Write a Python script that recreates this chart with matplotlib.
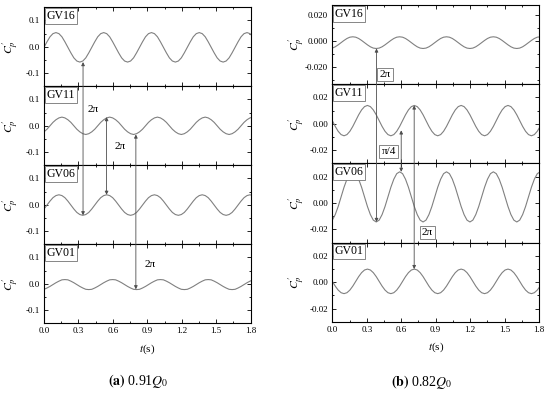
import numpy as np
import matplotlib
matplotlib.use('Agg')
import matplotlib.pyplot as plt
from matplotlib.patches import ConnectionPatch
from matplotlib.ticker import MultipleLocator, FormatStrFormatter

plt.rcParams['font.family'] = ['Liberation Serif', 'DejaVu Serif']
plt.rcParams['mathtext.fontset'] = 'stix'
plt.rcParams['axes.unicode_minus'] = False

# guide vane names, top panel first
names = ['GV16', 'GV11', 'GV06', 'GV01']

# sample interval of the records (s)
dt_a = 0.026
dt_b = 0.0255

# (a) 0.91Q0, pressure coefficient
gv16_a = [-0.002, 0.019, 0.038, 0.050, 0.054, 0.050, 0.038, 0.019, -0.002, -0.023, -0.042, -0.054, -0.058, -0.054, -0.042, -0.023,
          -0.002, 0.019, 0.038, 0.050, 0.054, 0.050, 0.038, 0.019, -0.002, -0.023, -0.042, -0.054, -0.058, -0.054, -0.042, -0.023,
          -0.002, 0.019, 0.038, 0.050, 0.054, 0.050, 0.038, 0.019, -0.002, -0.023, -0.042, -0.054, -0.058, -0.054, -0.042, -0.023,
          -0.002, 0.019, 0.038, 0.050, 0.054, 0.050, 0.038, 0.019, -0.002, -0.023, -0.042, -0.054, -0.058, -0.054, -0.042, -0.023,
          -0.002, 0.019, 0.038, 0.050, 0.054, 0.050, 0.038, 0.019]
gv11_a = [-0.023, -0.013, 0.000, 0.013, 0.023, 0.030, 0.033, 0.030, 0.023, 0.013, 0.000, -0.013, -0.023, -0.030, -0.033, -0.030,
          -0.023, -0.013, 0.000, 0.013, 0.023, 0.030, 0.033, 0.030, 0.023, 0.013, 0.000, -0.013, -0.023, -0.030, -0.033, -0.030,
          -0.023, -0.013, 0.000, 0.013, 0.023, 0.030, 0.033, 0.030, 0.023, 0.013, 0.000, -0.013, -0.023, -0.030, -0.033, -0.030,
          -0.023, -0.013, 0.000, 0.013, 0.023, 0.030, 0.033, 0.030, 0.023, 0.013, 0.000, -0.013, -0.023, -0.030, -0.033, -0.030,
          -0.023, -0.013, 0.000, 0.013, 0.023, 0.030, 0.033, 0.030]
gv06_a = [-0.016, -0.001, 0.014, 0.027, 0.035, 0.038, 0.035, 0.027, 0.014, -0.001, -0.016, -0.029, -0.037, -0.040, -0.037, -0.029,
          -0.016, -0.001, 0.014, 0.027, 0.035, 0.038, 0.035, 0.027, 0.014, -0.001, -0.016, -0.029, -0.037, -0.040, -0.037, -0.029,
          -0.016, -0.001, 0.014, 0.027, 0.035, 0.038, 0.035, 0.027, 0.014, -0.001, -0.016, -0.029, -0.037, -0.040, -0.037, -0.029,
          -0.016, -0.001, 0.014, 0.027, 0.035, 0.038, 0.035, 0.027, 0.014, -0.001, -0.016, -0.029, -0.037, -0.040, -0.037, -0.029,
          -0.016, -0.001, 0.014, 0.027, 0.035, 0.038, 0.035, 0.027]
gv01_a = [-0.021, -0.016, -0.010, -0.003, 0.004, 0.010, 0.015, 0.016, 0.015, 0.010, 0.004, -0.003, -0.010, -0.016, -0.021, -0.022,
          -0.021, -0.016, -0.010, -0.003, 0.004, 0.010, 0.015, 0.016, 0.015, 0.010, 0.004, -0.003, -0.010, -0.016, -0.021, -0.022,
          -0.021, -0.016, -0.010, -0.003, 0.004, 0.010, 0.015, 0.016, 0.015, 0.010, 0.004, -0.003, -0.010, -0.016, -0.021, -0.022,
          -0.021, -0.016, -0.010, -0.003, 0.004, 0.010, 0.015, 0.016, 0.015, 0.010, 0.004, -0.003, -0.010, -0.016, -0.021, -0.022,
          -0.021, -0.016, -0.010, -0.003, 0.004, 0.010, 0.015, 0.016]

# (b) 0.82Q0
gv16_b = [-0.0052, -0.0042, -0.0027, -0.0010, 0.0007, 0.0022, 0.0032, 0.0035, 0.0032, 0.0022, 0.0007, -0.0010, -0.0027, -0.0042, -0.0052, -0.0055,
          -0.0052, -0.0042, -0.0027, -0.0010, 0.0007, 0.0022, 0.0032, 0.0035, 0.0032, 0.0022, 0.0007, -0.0010, -0.0027, -0.0042, -0.0052, -0.0055,
          -0.0052, -0.0042, -0.0027, -0.0010, 0.0007, 0.0022, 0.0032, 0.0035, 0.0032, 0.0022, 0.0007, -0.0010, -0.0027, -0.0042, -0.0052, -0.0055,
          -0.0052, -0.0042, -0.0027, -0.0010, 0.0007, 0.0022, 0.0032, 0.0035, 0.0032, 0.0022, 0.0007, -0.0010, -0.0027, -0.0042, -0.0052, -0.0055,
          -0.0052, -0.0042, -0.0027, -0.0010, 0.0007, 0.0022, 0.0032, 0.0035]
gv11_b = [0.0024, -0.0020, -0.0057, -0.0082, -0.0091, -0.0082, -0.0057, -0.0020, 0.0024, 0.0068, 0.0105, 0.0130, 0.0139, 0.0130, 0.0105, 0.0068,
          0.0024, -0.0020, -0.0057, -0.0082, -0.0091, -0.0082, -0.0057, -0.0020, 0.0024, 0.0068, 0.0105, 0.0130, 0.0139, 0.0130, 0.0105, 0.0068,
          0.0024, -0.0020, -0.0057, -0.0082, -0.0091, -0.0082, -0.0057, -0.0020, 0.0024, 0.0068, 0.0105, 0.0130, 0.0139, 0.0130, 0.0105, 0.0068,
          0.0024, -0.0020, -0.0057, -0.0082, -0.0091, -0.0082, -0.0057, -0.0020, 0.0024, 0.0068, 0.0105, 0.0130, 0.0139, 0.0130, 0.0105, 0.0068,
          0.0024, -0.0020, -0.0057, -0.0082, -0.0091, -0.0082, -0.0057, -0.0020]
gv06_b = [-0.0130, -0.0088, -0.0027, 0.0046, 0.0119, 0.0180, 0.0222, 0.0236, 0.0222, 0.0180, 0.0119, 0.0046, -0.0027, -0.0088, -0.0130, -0.0144,
          -0.0130, -0.0088, -0.0027, 0.0046, 0.0119, 0.0180, 0.0222, 0.0236, 0.0222, 0.0180, 0.0119, 0.0046, -0.0027, -0.0088, -0.0130, -0.0144,
          -0.0130, -0.0088, -0.0027, 0.0046, 0.0119, 0.0180, 0.0222, 0.0236, 0.0222, 0.0180, 0.0119, 0.0046, -0.0027, -0.0088, -0.0130, -0.0144,
          -0.0130, -0.0088, -0.0027, 0.0046, 0.0119, 0.0180, 0.0222, 0.0236, 0.0222, 0.0180, 0.0119, 0.0046, -0.0027, -0.0088, -0.0130, -0.0144,
          -0.0130, -0.0088, -0.0027, 0.0046, 0.0119, 0.0180, 0.0222, 0.0236]
gv01_b = [0.0006, -0.0030, -0.0060, -0.0080, -0.0087, -0.0080, -0.0060, -0.0030, 0.0006, 0.0042, 0.0072, 0.0092, 0.0099, 0.0092, 0.0072, 0.0042,
          0.0006, -0.0030, -0.0060, -0.0080, -0.0087, -0.0080, -0.0060, -0.0030, 0.0006, 0.0042, 0.0072, 0.0092, 0.0099, 0.0092, 0.0072, 0.0042,
          0.0006, -0.0030, -0.0060, -0.0080, -0.0087, -0.0080, -0.0060, -0.0030, 0.0006, 0.0042, 0.0072, 0.0092, 0.0099, 0.0092, 0.0072, 0.0042,
          0.0006, -0.0030, -0.0060, -0.0080, -0.0087, -0.0080, -0.0060, -0.0030, 0.0006, 0.0042, 0.0072, 0.0092, 0.0099, 0.0092, 0.0072, 0.0042,
          0.0006, -0.0030, -0.0060, -0.0080, -0.0087, -0.0080, -0.0060, -0.0030]

series_a = [gv16_a, gv11_a, gv06_a, gv01_a]
series_b = [gv16_b, gv11_b, gv06_b, gv01_b]

# phase links: (time, upper panel, value, lower panel, value)
links_a = [(0.34, 0, -0.058, 2, -0.040),
           (0.545, 1, 0.033, 2, 0.038),
           (0.80, 1, -0.033, 3, -0.021)]
labels_a = [(1, 0.43, 0.062, '2π'), (1, 0.66, -0.080, '2π'), (3, 0.92, 0.073, '2π')]

links_b = [(0.385, 0, -0.0055, 2, -0.0144),
           (0.60, 1, -0.0050, 2, 0.0236),
           (0.713, 1, 0.0139, 3, 0.0099)]
labels_b = [(0, 0.46, -0.0255, '2π'), (1, 0.49, -0.021, 'π/4'), (2, 0.83, -0.0225, '2π')]

fig = plt.figure(figsize=(5.5, 3.93), dpi=100)


def make_column(left, top, width, h, series, dt, ylims, yticks, yfmt, labx):
    axes = []
    for i, (name, y) in enumerate(zip(names, series)):
        ax = fig.add_axes([left, top - (i + 1) * h, width, h])
        t = np.arange(len(y)) * dt
        ax.plot(t, y, color='0.5', lw=0.8)
        ax.set_xlim(0, 1.8)
        ax.set_ylim(*ylims[i])
        ax.set_yticks(yticks[i])
        ax.yaxis.set_major_formatter(FormatStrFormatter(yfmt[i]))
        ax.xaxis.set_major_locator(MultipleLocator(0.3))
        ax.xaxis.set_minor_locator(MultipleLocator(0.15))
        ax.yaxis.set_minor_locator(MultipleLocator((yticks[i][1] - yticks[i][0]) / 2))
        ax.tick_params(which='both', direction='in', top=True, right=True, width=0.6, labelsize=6.5, pad=3)
        ax.tick_params(which='major', length=3)
        ax.tick_params(which='minor', length=1.6)
        for s in ax.spines.values():
            s.set_linewidth(0.8)
        if i < 3:
            ax.tick_params(labelbottom=False)
        else:
            ax.set_xticks([0.0, 0.3, 0.6, 0.9, 1.2, 1.5, 1.8])
            ax.xaxis.set_major_formatter(FormatStrFormatter('%.1f'))
            ax.set_xlabel(r'$t$(s)', fontsize=8, labelpad=5)
        ax.set_ylabel(r'$C_p^{\,\prime}$', fontsize=8.5)
        ax.yaxis.set_label_coords(labx, 0.5)
        ax.text(0.012, 0.965, name, transform=ax.transAxes, fontsize=8.5, ha='left', va='top',
                bbox=dict(boxstyle='square,pad=0.15', fc='white', ec='0.45', lw=0.6))
        axes.append(ax)
    return axes


def draw_links(axes, links, labels, boxed):
    for t, i, yi, j, yj in links:
        con = ConnectionPatch(xyA=(t, yi), coordsA=axes[i].transData,
                              xyB=(t, yj), coordsB=axes[j].transData,
                              arrowstyle='<|-|>', mutation_scale=5, color='0.3', lw=0.6,
                              shrinkA=0, shrinkB=0)
        fig.add_artist(con)
    for i, x, y, s in labels:
        kw = {}
        if boxed:
            kw['bbox'] = dict(boxstyle='square,pad=0.2', fc='white', ec='0.45', lw=0.6)
        axes[i].text(x, y, s, fontsize=8, ha='center', va='center', **kw)


ax_a = make_column(0.08, 0.9814, 0.3758, 0.2010, series_a, dt_a,
                   [(-0.15, 0.15)] * 4, [[-0.1, 0.0, 0.1]] * 4, ['%.1f'] * 4, -0.118)
ax_b = make_column(0.6042, 0.9873, 0.3758, 0.2015, series_b, dt_b,
                   [(-0.033, 0.028), (-0.03, 0.03), (-0.03, 0.03), (-0.03, 0.03)],
                   [[-0.02, 0.0, 0.02]] * 4, ['%.3f', '%.2f', '%.2f', '%.2f'], -0.125)

draw_links(ax_a, links_a, labels_a, False)
draw_links(ax_b, links_b, labels_b, True)

fig.text(138 / 550, 1 - 381 / 393, r'$\mathbf{(a)}$ 0.91$\mathit{Q}_{\mathit{0}}$', fontsize=10, ha='center', va='center')
fig.text(422 / 550, 1 - 382 / 393, r'$\mathbf{(b)}$ 0.82$\mathit{Q}_{\mathit{0}}$', fontsize=10, ha='center', va='center')

fig.savefig('out.png', dpi=100)
